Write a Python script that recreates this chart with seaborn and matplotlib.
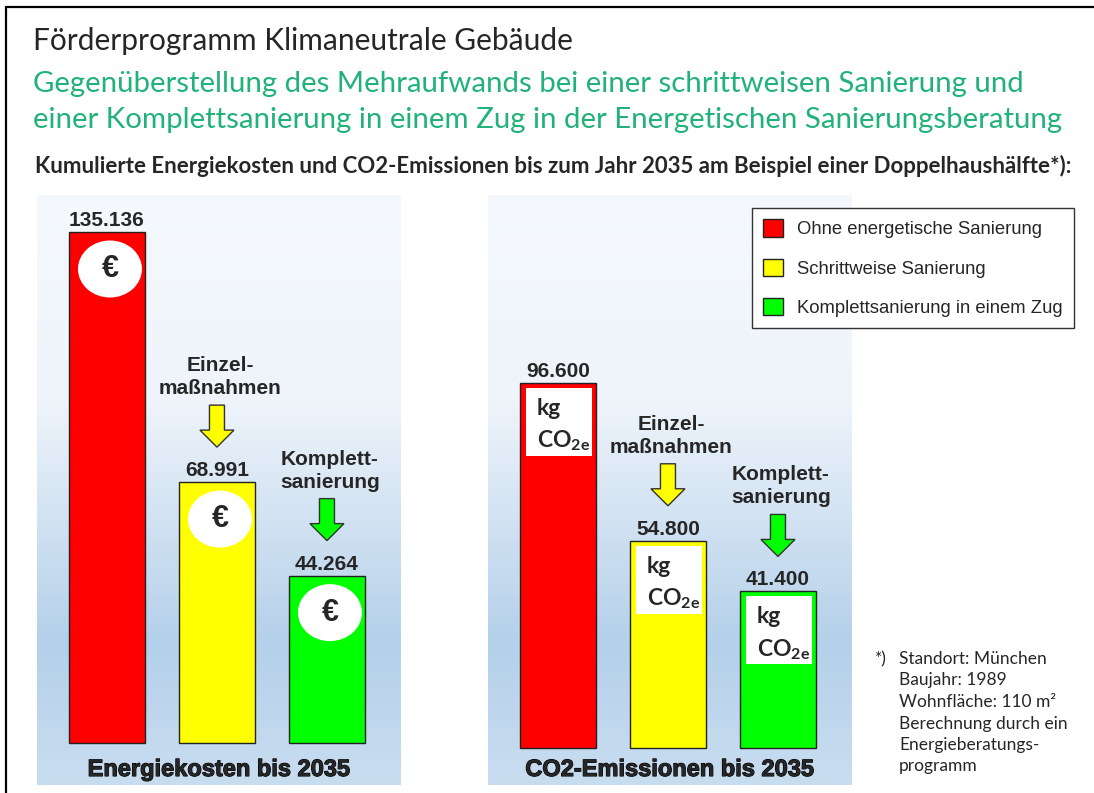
import pandas as pd
import matplotlib.pyplot as plt
import seaborn as sns
import numpy as np
from matplotlib.patches import Ellipse, Rectangle, FancyArrow, Patch
from matplotlib.colors import LinearSegmentedColormap
from matplotlib.lines import Line2D
import matplotlib.patheffects as pe

# data
variants = ["Ohne energetische Sanierung", "Schrittweise Sanierung", "Komplettsanierung in einem Zug"]
colors = ["#ff0000", "#ffff00", "#00ff00"]
cost_eur = [135136, 68991, 44264]
co2_kg = [96600, 54800, 41400]
step_labels = ["Einzel-\nmaßnahmen", "Komplett-\nsanierung"]
panel_titles = ["Energiekosten bis 2035", "CO2-Emissionen bis 2035"]
footnote = ["Standort: München", "Baujahr: 1989", "Wohnfläche: 110 m²",
            "Berechnung durch ein", "Energieberatungs-", "programm"]

sns.set_style("white")
plt.rcParams["font.family"] = ["Lato", "DejaVu Sans"]
plt.rcParams["mathtext.fontset"] = "custom"
plt.rcParams["mathtext.rm"] = "Lato"
plt.rcParams["mathtext.bf"] = "Lato:bold"
plt.rcParams["mathtext.it"] = "Lato:italic"

W, H = 1094, 793
def fx(p):
    return p / W
def fy(p):
    return 1 - p / H

k = 511 / 135136   # pixels per unit, same scale in both panels
xpx = 110          # pixels per category step
arial = "Liberation Sans"

fig = plt.figure(figsize=(W / 100, H / 100), dpi=100)

# frame (only left and top visible)
fig.add_artist(Line2D([fx(6), fx(6)], [fy(7), 0], color="black", lw=1.6))
fig.add_artist(Line2D([fx(6), 1], [fy(7), fy(7)], color="black", lw=1.6))

# header texts
fig.text(fx(33), fy(50), "Förderprogramm Klimaneutrale Gebäude", fontsize=21.5, va="baseline")
green = "#21b27a"
fig.text(fx(33), fy(92), "Gegenüberstellung des Mehraufwands bei einer schrittweisen Sanierung und",
         fontsize=21.2, color=green, va="baseline")
fig.text(fx(33), fy(128), "einer Komplettsanierung in einem Zug in der Energetischen Sanierungsberatung",
         fontsize=21.2, color=green, va="baseline")
fig.text(fx(35), fy(173),
         "Kumulierte Energiekosten und CO2-Emissionen bis zum Jahr 2035 am Beispiel einer Doppelhaushälfte*):",
         fontsize=16, fontweight="bold", va="baseline")

grad = LinearSegmentedColormap.from_list(
    "bg", [(0, "#f5f9fd"), (0.35, "#eef4fa"), (0.76, "#b4d0ea"), (1, "#c9ddf0")])
grad_img = grad(np.linspace(0, 1, 256))[:, None, :3]

panels = [(37, 743, cost_eur), (488, 748, co2_kg)]

for n, (left, base, values) in enumerate(panels):
    ax = fig.add_axes([fx(left), fy(785), 364 / W, 590 / H])
    ax.imshow(grad_img, extent=(0, 1, 0, 1), transform=ax.transAxes, aspect="auto", zorder=0)
    df = pd.DataFrame({"variant": variants, "value": values})
    sns.barplot(data=df, x="variant", y="value", hue="variant", order=variants, hue_order=variants,
                palette=colors, saturation=1, width=0.69, edgecolor="#222222", linewidth=1,
                legend=False, ax=ax, zorder=2)
    ax.set_xlim(-0.636, 2.673)
    ax.set_ylim(-(785 - base) / k, (base - 195) / k)
    ax.set_axis_off()

    for i, v in enumerate(values):
        ax.annotate(f"{v:,}".replace(",", "."), (i, v), xytext=(0, 6), textcoords="offset pixels",
                    ha="center", va="baseline", fontsize=15, fontweight="bold", family=arial, zorder=4)
        if n == 0:
            ax.add_patch(Ellipse((i + 3 / xpx, v - 37 / k), 64 / xpx, 57 / k, fc="white", ec="none", zorder=3))
            ax.text(i + 3 / xpx, v - 37 / k, "€", ha="center", va="center", fontsize=22,
                    fontweight="bold", family=arial, zorder=4)
        else:
            x0 = i - 0.345
            ax.add_patch(Rectangle((x0 + 6 / xpx, v - 5 / k - 68 / k), 66 / xpx, 68 / k,
                                   fc="white", ec="none", zorder=3))
            ax.annotate("kg", (x0, v), xytext=(17, -32), textcoords="offset pixels",
                        ha="left", va="baseline", fontsize=16.5, fontweight="bold", zorder=4)
            ax.annotate(r"CO$_\mathbf{2e}$", (x0, v), xytext=(17, -65), textcoords="offset pixels",
                        ha="left", va="baseline", fontsize=16.5, fontweight="bold", zorder=4)

    # arrows with step labels
    for i, lab in zip([1, 2], step_labels):
        v = values[i]
        top = v + (35 + 42) / k
        ax.add_patch(FancyArrow(i, top, 0, -42 / k, width=15 / xpx, head_width=34 / xpx,
                                head_length=17 / k, length_includes_head=True,
                                fc=colors[i], ec="#333333", lw=1, zorder=3))
        l1, l2 = lab.split("\n")
        ax.annotate(l2, (i, top), xytext=(3, 11), textcoords="offset pixels", ha="center",
                    va="baseline", fontsize=15, fontweight="bold", family=arial)
        ax.annotate(l1, (i, top), xytext=(3, 34), textcoords="offset pixels", ha="center",
                    va="baseline", fontsize=15, fontweight="bold", family=arial)

    ax.text(0.5, (785 - 776) / 590, panel_titles[n], transform=ax.transAxes, ha="center",
            va="baseline", fontsize=17, fontweight="bold", family=arial,
            path_effects=[pe.withStroke(linewidth=0.8, foreground="black")])

# legend
handles = [Patch(facecolor=c, edgecolor="#222222", linewidth=1) for c in colors]
fig.legend(handles, variants, loc="upper left", bbox_to_anchor=(fx(752), fy(208)),
           frameon=True, fancybox=False, edgecolor="#333333", framealpha=1,
           prop={"family": arial, "size": 13.3}, handlelength=1.05, handleheight=1.05,
           labelspacing=1.1, handletextpad=0.75, borderpad=0.62, borderaxespad=0)

# footnote
fig.text(fx(875), fy(664), "*)", fontsize=12.5, va="baseline")
for j, line in enumerate(footnote):
    fig.text(fx(899), fy(664 + 21.5 * j), line, fontsize=12.5, va="baseline")

fig.savefig("out.png", dpi=100)
